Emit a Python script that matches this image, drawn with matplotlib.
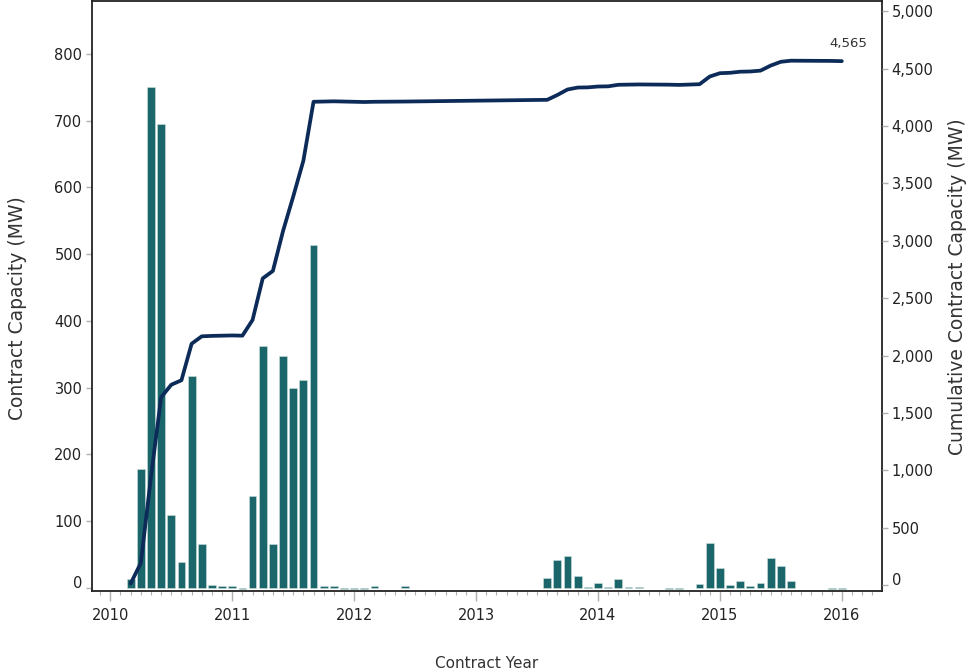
import matplotlib
matplotlib.use("Agg")
import matplotlib.pyplot as plt
import matplotlib.transforms as mtransforms
from matplotlib.ticker import FixedLocator, MultipleLocator, FuncFormatter
import numpy as np

# monthly contract capacity (MW)
months = ["2010-03", "2010-04", "2010-05", "2010-06", "2010-07", "2010-08",
          "2010-09", "2010-10", "2010-11", "2010-12", "2011-01", "2011-02",
          "2011-03", "2011-04", "2011-05", "2011-06", "2011-07", "2011-08",
          "2011-09", "2011-10", "2011-11", "2011-12", "2012-01", "2012-02",
          "2012-03", "2012-06", "2013-08", "2013-09", "2013-10", "2013-11",
          "2013-12", "2014-01", "2014-02", "2014-03", "2014-04", "2014-05",
          "2014-08", "2014-09", "2014-11", "2014-12", "2015-01", "2015-02",
          "2015-03", "2015-04", "2015-05", "2015-06", "2015-07", "2015-08",
          "2015-12", "2016-01"]
capacity = [13.5, 178, 750, 695, 109, 39,
            318, 65, 3.5, 2, 2, -2,
            137, 362, 65, 348, 300, 312,
            514, 2, 2, -2, -2, -2,
            2, 2, 15, 42, 48, 17,
            1.5, 7.5, 1.5, 13.5, 1.5, 1.5,
            -2, -2, 6, 67, 29, 3.5,
            9.5, 2, 7.5, 44, 33, 9.5,
            -2, -2]

year_ticks = [2010, 2011, 2012, 2013, 2014, 2015, 2016]
left_ticks = [0, 100, 200, 300, 400, 500, 600, 700, 800]
right_ticks = [0, 500, 1000, 1500, 2000, 2500, 3000, 3500, 4000, 4500, 5000]

bar_color = "#1b666a"
line_color = "#0c2b58"
text_color = "#333333"
tick_color = "#b0b0b0"

x = np.array([int(m[:4]) + (int(m[5:]) - 1) / 12 for m in months])
cumulative = np.cumsum(capacity)

fig = plt.figure(figsize=(9.74, 6.72), dpi=100)
ax = fig.add_axes([0.0945, 0.1205, 0.8111, 0.878])
ax2 = ax.twinx()

ax.bar(x, capacity, width=0.064, color=bar_color, edgecolor="#cfdfdf",
       linewidth=0.4, zorder=2)
ax2.plot(x, cumulative, color=line_color, lw=2.7, solid_joinstyle="round",
         solid_capstyle="round", zorder=3)
ax2.annotate(f"{cumulative[-1]:,.0f}", (x[-1], cumulative[-1]),
             xytext=(4.5, 13), textcoords="offset points", ha="center",
             va="center", fontsize=9.5, color=text_color)

ax.set_xlim(2009.85, 2016.33)
ax.set_ylim(-5, 879.6)
ax2.set_ylim(-52, 5089)

ax.xaxis.set_major_locator(FixedLocator(year_ticks))
ax.xaxis.set_minor_locator(MultipleLocator(1 / 12))
ax.xaxis.set_major_formatter(FuncFormatter(lambda v, p: f"{v:.0f}"))
ax.yaxis.set_major_locator(FixedLocator(left_ticks))
ax2.yaxis.set_major_locator(FixedLocator(right_ticks))
ax2.yaxis.set_major_formatter(FuncFormatter(lambda v, p: f"{v:,.0f}"))

ax.tick_params(axis="x", which="major", length=7, width=1, color=tick_color,
               labelsize=10.5, labelcolor="#222222", pad=5)
ax.tick_params(axis="x", which="minor", length=3, width=0.8, color=tick_color)
ax.tick_params(axis="y", length=4, width=1, color=tick_color,
               labelsize=10.5, labelcolor="#222222", pad=3)
ax2.tick_params(axis="y", length=4, width=1, color=tick_color,
                labelsize=10.5, labelcolor="#222222", pad=3)

for s in ax.spines.values():
    s.set_color("#222222")
    s.set_linewidth(1.3)
for s in ax2.spines.values():
    s.set_visible(False)

ax.set_ylabel("Contract Capacity (MW)", fontsize=13.5, color=text_color,
              va="center")
ax.yaxis.set_label_coords(-0.094, 0.48)
ax2.set_ylabel("Cumulative Contract Capacity (MW)", fontsize=13.5,
               color=text_color, va="center", rotation=90)
ax2.yaxis.set_label_coords(1.095, 0.515)
ax.set_xlabel("Contract Year", fontsize=11, color=text_color)
ax.xaxis.set_label_coords(0.5, -0.11)

# the zero labels sit a little above their ticks
fig.canvas.draw()
shift = mtransforms.ScaledTranslation(0, 6 / 100, fig.dpi_scale_trans)
for a in (ax, ax2):
    lab = a.yaxis.get_major_ticks()[0]
    lab.label1.set_transform(lab.label1.get_transform() + shift)
    lab.label2.set_transform(lab.label2.get_transform() + shift)

fig.savefig("out.png", dpi=100)
